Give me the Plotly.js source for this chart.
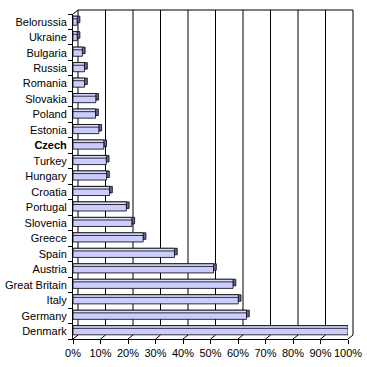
<!DOCTYPE html>
<html>
<head>
<meta charset="utf-8">
<script src="https://cdn.plot.ly/plotly-3.0.1.min.js"></script>
<style>html,body{margin:0;padding:0;background:#fff;}#chart{width:367px;height:367px;}</style>
</head>
<body>
<div id="chart"></div>
<script>
// Data (top to bottom)
const countries = ["Belorussia","Ukraine","Bulgaria","Russia","Romania","Slovakia","Poland","Estonia","Czech","Turkey","Hungary","Croatia","Portugal","Slovenia","Greece","Spain","Austria","Great Britain","Italy","Germany","Denmark"];
const countryLabels = ["Belorussia","Ukraine","Bulgaria","Russia","Romania","Slovakia","Poland","Estonia","<b>Czech</b>","Turkey","Hungary","Croatia","Portugal","Slovenia","Greece","Spain","Austria","Great Britain","Italy","Germany","Denmark"];
const shares = [1.5,1.5,3.4,4.2,4.2,8.3,8.2,9.4,11.2,12.1,12.2,13.3,19.4,21.4,25.5,36.9,51.1,58.2,60.1,63.1,100];
const xTickVals = [0,10,20,30,40,50,60,70,80,90,100];
const xTickLabels = ["0%","10%","20%","30%","40%","50%","60%","70%","80%","90%","100%"];

// geometry (pixels)
const W = 367, H = 367;
const M = {l:73, r:19, t:14, b:28};
const pw = W - M.l - M.r, ph = H - M.t - M.b;
const px = x => (x - M.l) / pw;
const py = y => (H - M.b - y) / ph;
const dx = 5, dy = -4; // back wall offset
const depth = 1.0;     // bar depth in % units

const shapes = [];
const line = (x0,y0,x1,y1) => shapes.push({type:'line', xref:'paper', yref:'paper', x0:px(x0), y0:py(y0), x1:px(x1), y1:py(y1), line:{color:'#000', width:1}, layer:'below'});
xTickVals.forEach(v => {
  const fx = M.l + pw * v / 100;
  line(fx+dx, M.t+dy, fx+dx, H-M.b+dy);       // back wall gridline
  line(fx, H-M.b, fx+dx, H-M.b+dy);           // floor diagonal
});
line(M.l+dx, M.t+dy, M.l+pw+dx, M.t+dy);      // back wall top
line(M.l, M.t, M.l+dx, M.t+dy);               // top-left corner

const common = {type:'bar', orientation:'h', y:countries, base:0, hoverinfo:'skip', showlegend:false};
const traces = [
  Object.assign({}, common, {x: shares.map(v => v + depth), offset:-0.36, width:0.42,
    marker:{color:'#666699', line:{color:'#000', width:0.8}}}),
  Object.assign({}, common, {x: shares, offset:-0.36, width:0.42,
    marker:{color:'#dcdcff', line:{color:'#000', width:0.8}}}),
  Object.assign({}, common, {x: shares, offset:-0.19, width:0.42,
    marker:{color:'#ccccff', line:{color:'#000', width:0.8}}})
];

const layout = {
  width:W, height:H,
  margin:M,
  paper_bgcolor:'#fff', plot_bgcolor:'rgba(0,0,0,0)',
  barmode:'overlay',
  font:{family:'"Liberation Sans", Arial, sans-serif', size:11, color:'#000'},
  xaxis:{range:[0,100], tickvals:xTickVals, ticktext:xTickLabels, showgrid:false, zeroline:false,
    showline:true, linecolor:'#000', linewidth:1, ticks:'outside', ticklen:4, tickcolor:'#000', fixedrange:true},
  yaxis:{type:'category', categoryorder:'array', categoryarray:countries, autorange:'reversed',
    tickvals:countries, ticktext:countryLabels, tickson:'boundaries', ticklabelstandoff:3,
    showgrid:false, zeroline:false, showline:true, linecolor:'#000', linewidth:1,
    ticks:'outside', ticklen:4, tickcolor:'#000', fixedrange:true},
  shapes:shapes
};

Plotly.newPlot('chart', traces, layout, {staticPlot:true, displayModeBar:false});
</script>
</body>
</html>
